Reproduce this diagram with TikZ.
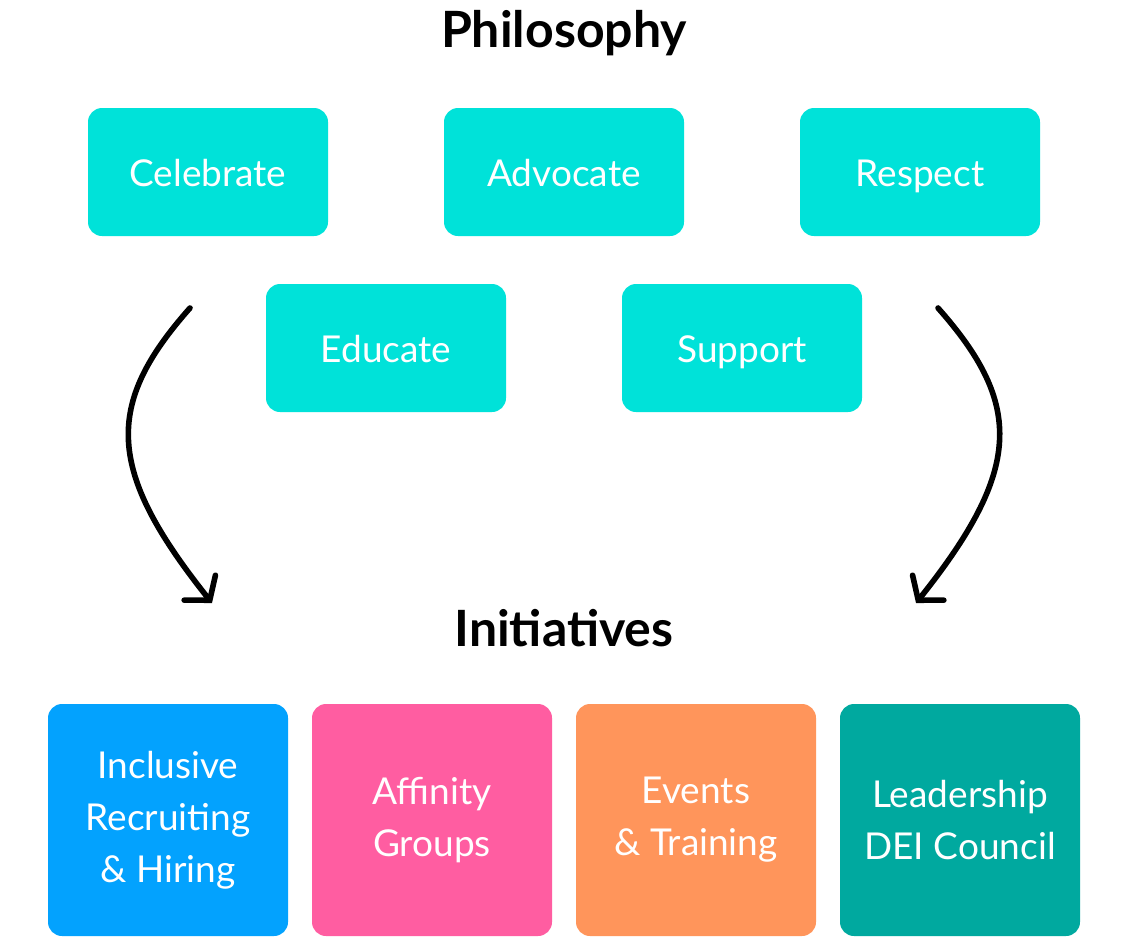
\documentclass[tikz,border=0pt]{standalone}
\usepackage{fontspec}
\setmainfont{Lato}
\usetikzlibrary{arrows.meta,positioning}
\definecolor{ink}{HTML}{000000}
\definecolor{philfill}{HTML}{00E2D9}
\definecolor{bluefill}{HTML}{03A2FE}
\definecolor{pinkfill}{HTML}{FF5DA1}
\definecolor{orangefill}{HTML}{FF955B}
\definecolor{tealfill}{HTML}{00A99F}
\begin{document}
\begin{tikzpicture}[
  x=0.5pt, y=-0.5pt,
  philbox/.style={
    fill=philfill, draw=none, rounded corners=7pt,
    minimum width=120pt, minimum height=64pt,
    text height=15pt, text depth=1pt,
    align=center, inner sep=2pt, text=white, font=\fontsize{18.5}{22}\selectfont
  },
  initbox/.style={
    draw=none, rounded corners=7pt,
    minimum width=120pt, minimum height=116pt,
    align=center, inner sep=2pt, text=white, font=\fontsize{18.5}{26}\selectfont
  },
  head/.style={font=\fontsize{25}{28}\selectfont\bfseries, text=ink},
  flow/.style={-{Straight Barb[length=8pt,width=20pt,line width=2.8pt,line cap=round]},
    line width=2.8pt, line cap=round, draw=ink}
]
\useasboundingbox (0,0) rectangle (1128,938);

%% ---------- headings ----------
\node[head] (phil) at (564,33) {Philosophy};
\node[head] (init) at (564,628) {Initiatives};

%% ---------- philosophy ----------
\node[philbox] (celebrate) at (208,172) {Celebrate};
\node[philbox] (advocate)  at (564,172) {Advocate};
\node[philbox] (respect)   at (920,172) {Respect};
\node[philbox] (educate)   at (386,348) {Educate};
\node[philbox] (support)   at (742,348) {Support};

%% ---------- initiatives ----------
\node[initbox, fill=bluefill]   (hiring)   at (168,820) {Inclusive\\Recruiting\\\& Hiring};
\node[initbox, fill=pinkfill]   (affinity) at (432,820) {Affinity\\Groups};
\node[initbox, fill=orangefill] (events)   at (696,820) {Events\\\& Training};
\node[initbox, fill=tealfill]   (council)  at (960,820) {Leadership\\DEI Council};

%% ---------- arrows ----------
\coordinate (lstart) at (190,308);
\coordinate (lend)   at (212,603);
\coordinate (rstart) at (938,308);
\coordinate (rend)   at (916,603);
\draw[flow] (lstart) .. controls (104,405) and (106,470) .. (lend);
\draw[flow] (rstart) .. controls (1024,405) and (1022,470) .. (rend);

\end{tikzpicture}
\end{document}
